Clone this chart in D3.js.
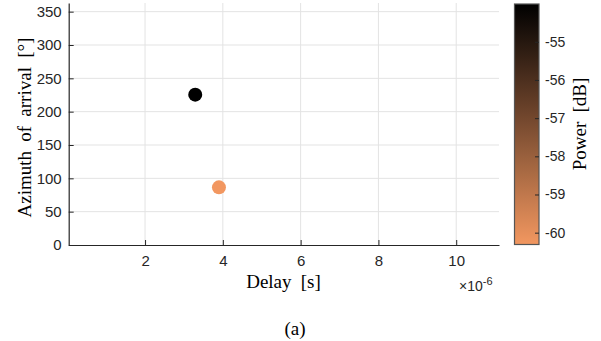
<!DOCTYPE html>
<html>
<head>
<meta charset="utf-8">
<script src="https://cdn.jsdelivr.net/npm/d3@7"></script>
<style>
  html, body { margin: 0; padding: 0; background: #fff; }
  svg { display: block; }
</style>
</head>
<body>
<svg id="chart" width="601" height="341"></svg>
<script>
// Multipath components: delay, azimuth of arrival and received power
const delays = [3.29e-6, 3.90e-6];
const azimuths = [225.5, 86.5];
const powers = [-54.01, -60.31];

const xTicks = [2e-6, 4e-6, 6e-6, 8e-6, 10e-6];
const yTicks = [0, 50, 100, 150, 200, 250, 300, 350];
const cTicks = [-60, -59, -58, -57, -56, -55];

const xDomain = [0.037e-6, 11.1e-6];
const yDomain = [0, 363];
const cDomain = [-60.31, -54.01];

const svg = d3.select("#chart");
const axisColor = "#262626";
const gridColor = "#e3e3e3";
const tickFont = "'Liberation Sans', Arial, sans-serif";
const labelFont = "'Liberation Serif', 'Times New Roman', serif";

const plot = { left: 68.7, right: 499, top: 3, bottom: 245 };

const x = d3.scaleLinear().domain(xDomain).range([plot.left, plot.right]);
const y = d3.scaleLinear().domain(yDomain).range([plot.bottom, plot.top]);
// copper-like ramp: light copper for weak paths, black for strongest
const color = d3.scaleLinear().domain(cDomain)
  .range(["rgb(242,151,96)", "rgb(0,0,0)"]).interpolate(d3.interpolateRgb);

// grid
const grid = svg.append("g");
grid.selectAll("line.gx").data(xTicks).join("line")
  .attr("x1", d => x(d)).attr("x2", d => x(d))
  .attr("y1", plot.top).attr("y2", plot.bottom)
  .attr("stroke", gridColor).attr("stroke-width", 1);
grid.selectAll("line.gy").data(yTicks.filter(d => d > 0)).join("line")
  .attr("x1", plot.left).attr("x2", plot.right)
  .attr("y1", d => y(d)).attr("y2", d => y(d))
  .attr("stroke", gridColor).attr("stroke-width", 1);

// axes (ticks pointing inward)
const xAxis = d3.axisBottom(x).tickValues(xTicks)
  .tickFormat(d => d3.format("d")(Math.round(d / 1e-6)))
  .tickSizeInner(-5).tickSizeOuter(0).tickPadding(10);
const gx = svg.append("g").attr("transform", `translate(0,${plot.bottom})`).call(xAxis);

const yAxis = d3.axisLeft(y).tickValues(yTicks)
  .tickSizeInner(-5).tickSizeOuter(0).tickPadding(7);
const gy = svg.append("g").attr("transform", `translate(${plot.left},0)`).call(yAxis);

[gx, gy].forEach(g => {
  g.select(".domain").attr("stroke", axisColor).attr("stroke-width", 1.2);
  g.selectAll(".tick line").attr("stroke", axisColor);
  g.selectAll(".tick text").attr("fill", axisColor)
    .style("font-family", tickFont).style("font-size", "15px");
});

// exponent marker
const expo = svg.append("text")
  .attr("x", 459).attr("y", 291)
  .attr("fill", axisColor)
  .style("font-family", tickFont).style("font-size", "14px");
expo.append("tspan").text("\u00d710");
expo.append("tspan").attr("dy", -6).style("font-size", "11px").text("-6");

// axis titles
svg.append("text")
  .attr("x", 283.5).attr("y", 288)
  .attr("text-anchor", "middle")
  .attr("fill", "#000")
  .style("font-family", labelFont).style("font-size", "19px")
  .style("word-spacing", "4.5px")
  .text("Delay [s]");

svg.append("text")
  .attr("transform", `translate(30.5,127.5) rotate(-90)`)
  .attr("text-anchor", "middle")
  .attr("fill", "#000")
  .style("font-family", labelFont).style("font-size", "19px")
  .style("word-spacing", "4.5px")
  .text("Azimuth of arrival [\u00b0]");

// scatter points
svg.append("g").selectAll("circle")
  .data(delays.map((d, i) => ({ d, a: azimuths[i], p: powers[i] })))
  .join("circle")
  .attr("cx", d => x(d.d))
  .attr("cy", d => y(d.a))
  .attr("r", 7)
  .attr("fill", d => color(d.p));

// colorbar
const cb = { left: 514.5, width: 24.5, top: 4, bottom: 244.5 };
const cy = d3.scaleLinear().domain(cDomain).range([cb.bottom, cb.top]);

const defs = svg.append("defs");
const grad = defs.append("linearGradient")
  .attr("id", "powerRamp")
  .attr("x1", 0).attr("y1", 1).attr("x2", 0).attr("y2", 0);
d3.range(0, 1.0001, 0.1).forEach(t => {
  grad.append("stop")
    .attr("offset", t)
    .attr("stop-color", color(cDomain[0] + t * (cDomain[1] - cDomain[0])));
});

svg.append("rect")
  .attr("x", cb.left).attr("y", cb.top)
  .attr("width", cb.width).attr("height", cb.bottom - cb.top)
  .attr("fill", "url(#powerRamp)")
  .attr("stroke", "#555").attr("stroke-width", 1.2);

const cAxis = d3.axisRight(cy).tickValues(cTicks)
  .tickFormat(d => String(d))
  .tickSizeInner(-4).tickSizeOuter(0).tickPadding(6);
const gc = svg.append("g").attr("transform", `translate(${cb.left + cb.width},0)`).call(cAxis);
gc.select(".domain").remove();
gc.selectAll(".tick line").attr("stroke", axisColor);
gc.selectAll(".tick text").attr("fill", axisColor)
  .style("font-family", tickFont).style("font-size", "14px");

svg.append("text")
  .attr("transform", `translate(586,124) rotate(-90)`)
  .attr("text-anchor", "middle")
  .attr("fill", "#000")
  .style("font-family", labelFont).style("font-size", "19px")
  .style("word-spacing", "4.5px")
  .text("Power [dB]");

// panel caption
svg.append("text")
  .attr("x", 295).attr("y", 335)
  .attr("text-anchor", "middle")
  .attr("fill", "#000")
  .style("font-family", labelFont).style("font-size", "19px")
  .text("(a)");
</script>
</body>
</html>
